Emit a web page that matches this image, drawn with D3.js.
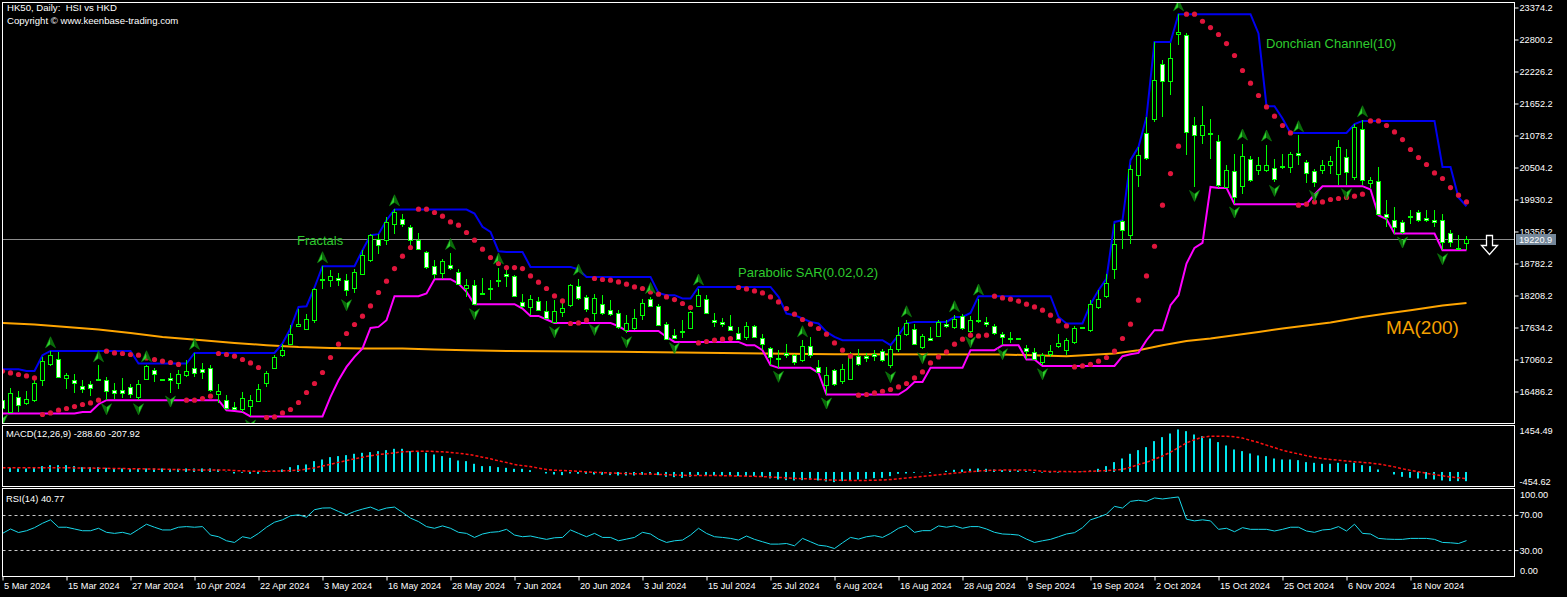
<!DOCTYPE html>
<html><head><meta charset="utf-8">
<script src="https://cdn.jsdelivr.net/npm/d3@7"></script>
<style>
html,body{margin:0;padding:0;background:#000;overflow:hidden}
svg{display:block}
text{font-family:"Liberation Sans",Arial,sans-serif}
</style></head><body>
<svg id="c" width="1567" height="597"></svg>
<script>
const dateLabels = ["5 Mar 2024","15 Mar 2024","27 Mar 2024","10 Apr 2024","22 Apr 2024","3 May 2024","16 May 2024","28 May 2024","7 Jun 2024","20 Jun 2024","3 Jul 2024","15 Jul 2024","25 Jul 2024","6 Aug 2024","16 Aug 2024","28 Aug 2024","9 Sep 2024","19 Sep 2024","2 Oct 2024","15 Oct 2024","25 Oct 2024","6 Nov 2024","18 Nov 2024"];
const priceTicks = [23374.2,22800.2,22226.2,21652.2,21078.2,20504.2,19930.2,19356.2,18782.2,18208.2,17634.2,17060.2,16486.2];
const macdTicks = [1454.49,-454.62];
const rsiTicks = [100,70,30,0];
const rsiLevels = [70,30];
const lastPrice = 19220.9;

const opens = [
16329,16119,16389,16288,16342,16688,16988,17077,16736,16688,
16593,16616,16710,16700,16508,16508,16562,16389,16719,16867,
16700,16736,16647,16790,16908,16898,16908,16449,16342,16209,
16168,16227,16317,16640,16915,17149,17347,17662,17615,17777,
18500,18482,18523,18494,18351,18602,18841,19230,19212,19499,
19588,19438,19199,18989,18733,18613,18751,18631,18351,18392,
18231,18320,18482,18602,18553,18092,18003,18105,17926,17734,
17913,18033,18387,18182,17895,18064,17944,17902,17585,17633,
17866,18141,18028,17705,17495,17575,17633,18021,18141,17777,
17741,17669,17544,17465,17656,17454,17267,17080,17177,17136,
17046,17303,16926,16598,16867,16670,16719,17118,17124,17167,
17213,16957,17257,17513,17615,17285,17454,17483,17705,17644,
17836,17572,17776,17734,17656,17526,17450,17440,17267,17195,
17016,17154,17298,17239,17374,17630,17585,18003,18195,18692,
19540,19289,20366,21132,21383,22352,22052,22890,22877,21275,
21096,21124,20981,20156,20443,20168,20665,20455,20455,20503,
20530,20515,20766,20604,20443,20455,20545,20396,20694,20335,
21203,20227,20263,19678,19558,19528,19632,19707,19607,19571,
19558,19337,19064,19151];
const highs = [
16383,16544,16490,16490,16747,17106,17208,17195,16818,16795,
16688,16670,16957,16747,16634,16724,16616,16688,16957,16908,
16715,16826,16867,17046,17179,16998,16957,16629,16419,16299,
16478,16419,16616,16855,17136,17347,17687,17974,17884,18351,
18734,18674,18613,18589,18692,19020,19320,19320,19617,19755,
19678,19469,19330,19007,18841,18864,18972,18692,18512,18482,
18530,18482,18710,18661,18571,18243,18213,18182,18105,18123,
18123,18422,18512,18213,18243,18213,18135,17944,17854,17974,
18154,18182,18051,17734,17603,17764,17931,18333,18225,17895,
17800,17854,17644,17734,17687,17526,17285,17226,17347,17167,
17405,17464,17059,16926,16898,16988,17195,17244,17177,17239,
17257,17303,17644,17764,17692,17513,17644,17764,17764,17854,
17884,17836,18154,17823,17705,17557,17549,17450,17316,17262,
17172,17316,17526,17441,17661,17650,18123,18302,18601,19499,
19558,20545,20873,21412,22757,22441,22739,23254,22918,21411,
21603,21383,21083,20545,20755,20934,20706,20694,20916,20665,
20755,20783,21083,20647,20486,20647,20706,21006,20844,21293,
21352,20335,20514,19929,19797,19571,19750,19750,19738,19750,
19678,19379,19289,19276];
const lows = [
16132,16096,16114,16239,16293,16586,16939,16729,16539,16467,
16467,16406,16670,16329,16360,16365,16365,16329,16700,16657,
16690,16467,16539,16747,16747,16706,16478,16280,16150,16150,
16114,16038,16293,16568,16903,17106,17316,17644,17585,17716,
18333,18362,18374,18195,18254,18571,18810,18948,19110,19320,
19438,19050,19020,18692,18512,18500,18674,18392,18182,18033,
18213,18123,18356,18362,18177,17979,17854,17926,17782,17710,
17823,17997,18123,17913,17752,17854,17836,17615,17531,17585,
17777,17997,17656,17405,17423,17441,17603,17997,17872,17644,
17644,17567,17405,17405,17441,17226,16958,16910,17082,16957,
17011,17082,16820,16432,16580,16616,16688,16939,17011,17029,
17011,16903,17190,17477,17316,17244,17387,17459,17621,17603,
17585,17531,17710,17639,17495,17316,17351,17430,17064,17064,
16957,17106,17262,17136,17344,17620,17554,17974,18159,18512,
19050,19140,20156,20635,21322,21411,21801,22698,20724,20155,
20934,20665,20138,20138,19858,20037,20240,20366,20419,20246,
20486,20407,20545,20228,20156,20396,20396,20186,20186,20276,
20186,20132,19648,19438,19320,19320,19499,19528,19522,19438,
19021,19079,19033,19020];
const closes = [
16185,16467,16252,16347,16647,17029,17136,16747,16777,16647,
16539,16557,16706,16496,16467,16467,16437,16629,16939,16808,
16705,16700,16808,16855,16826,16837,16521,16490,16191,16168,
16378,16329,16539,16826,17106,17239,17526,17705,17795,18333,
18495,18559,18482,18302,18631,18930,19289,19110,19528,19707,
19499,19199,19050,18720,18589,18823,18710,18410,18392,18064,
18261,18351,18490,18553,18200,18020,18141,17956,17813,17926,
17992,18392,18172,17974,18172,17895,17884,17644,17723,17813,
18074,18028,17687,17436,17454,17580,17913,18213,17902,17741,
17692,17585,17436,17656,17465,17347,17106,17085,17136,17016,
17298,17136,16837,16777,16629,16885,17118,16988,17088,17118,
17046,17257,17495,17716,17347,17477,17418,17734,17656,17795,
17626,17764,17746,17692,17543,17465,17446,17436,17208,17077,
17136,17208,17357,17405,17633,17636,18051,18154,18433,19140,
19379,20486,20724,20683,22082,22052,22477,22936,21142,21083,
21275,21128,20186,20455,19976,20706,20276,20557,20545,20306,
20533,20755,20724,20407,20245,20545,20622,20873,20424,21232,
20276,20276,19678,19617,19438,19348,19628,19571,19558,19528,
19169,19169,19060,19220.9];

const donchianUpper = [
16886,16886,16886,16856,16856,17137,17214,17214,17214,17214,
17214,17214,17214,17214,17214,17214,17214,16988,16988,16988,
16988,16988,16988,16988,17179,17179,17179,17179,17179,17179,
17179,17179,17179,17179,17179,17347,17616,18004,18016,18352,
18734,18734,18734,18734,18734,19021,19290,19308,19559,19751,
19751,19751,19751,19751,19751,19751,19751,19751,19751,19679,
19439,19349,19003,18990,18990,18990,18721,18721,18721,18721,
18721,18721,18675,18542,18542,18542,18542,18542,18542,18542,
18542,18542,18255,18214,18214,18154,18154,18362,18362,18362,
18362,18362,18362,18362,18362,18362,18362,18183,17885,17855,
17796,17735,17706,17555,17465,17406,17406,17406,17406,17406,
17406,17317,17496,17706,17735,17735,17735,17735,17735,17824,
17824,17896,18196,18196,18196,18196,18196,18196,18196,18196,
18196,18196,17824,17706,17706,17706,18052,18303,18513,19528,
19559,20635,20874,21412,22757,22757,22757,23254,23254,23254,
23254,23254,23254,23254,23254,23254,23254,22908,21604,21604,
21383,21125,21125,21125,21125,21125,21125,21125,21125,21281,
21340,21340,21340,21340,21340,21340,21340,21340,21340,21340,
20515,20515,19966,19810];
const donchianLower = [
16092,16092,16092,16092,16092,16092,16092,16092,16092,16092,
16120,16120,16258,16330,16330,16330,16330,16330,16330,16330,
16330,16330,16330,16330,16330,16330,16330,16330,16151,16138,
16120,16038,16038,16038,16038,16038,16038,16038,16038,16038,
16038,16389,16689,16927,17107,17258,17627,17645,17765,18196,
18196,18196,18196,18244,18500,18500,18500,18423,18273,18052,
18052,18052,18052,18052,18052,17975,17842,17842,17778,17717,
17717,17717,17717,17717,17717,17717,17717,17657,17573,17573,
17573,17573,17573,17465,17376,17376,17376,17376,17376,17376,
17376,17376,17376,17317,17317,17227,16958,16910,16910,16910,
16910,16910,16820,16432,16432,16432,16432,16432,16432,16432,
16432,16432,16432,16522,16658,16658,16910,16910,16910,16910,
16910,17227,17227,17227,17227,17317,17317,17317,17060,17060,
16945,16945,16945,16945,16945,16945,16945,16945,16945,16945,
17119,17155,17179,17406,17586,17586,18034,18214,18782,19062,
19152,20156,20138,20138,19846,19846,19846,19846,19846,19846,
19846,19846,19846,19846,20020,20169,20169,20169,20169,20169,
20169,20110,19649,19577,19320,19320,19320,19320,19320,19320,
19021,19021,19021,19021];
const sar = [
16850,16820,16791,16766,16730,16074,16102,16151,16181,16217,
16253,16282,16330,17209,17179,17168,17150,17137,17089,17060,
17030,17006,16971,16330,16330,16361,16402,17168,17150,17119,
17060,16999,16917,16020,16031,16102,16163,16289,16468,16630,
16827,17096,17335,17527,17688,17837,18022,18262,18465,18692,
18913,19069,19756,19756,19697,19631,19528,19469,19338,19200,
19039,18890,18782,18710,18710,18692,18560,18447,18334,18201,
18111,17706,17717,17765,18513,18495,18483,18452,18411,18362,
18334,18273,18232,18183,18136,18065,17993,17358,17383,17406,
17424,17437,18352,18327,18291,18255,18183,18093,17975,17873,
17778,17693,17616,17514,17358,17227,17119,16420,16432,16461,
16491,16522,16569,16630,16730,16838,16999,17107,17196,17335,
17424,17496,17483,17496,18196,18165,18142,18106,18052,18004,
17945,17855,17752,17663,16927,16945,16971,17030,17096,17209,
17437,17693,18124,18560,19092,19828,20396,20886,23254,23254,
23128,23015,22890,22728,22513,22244,22016,21796,21591,21424,
21258,21125,19828,19846,19887,19887,19930,19948,19966,19989,
20025,21340,21340,21258,21143,21006,20827,20684,20558,20407,
20307,20145,20007,19887];
const maIndex = [0,4,8,12,16,20,25,29,33,37,41,45,50,54,58,63,77,104,125,133,139,142,145,148,151,154,157,160,164,166,170,173,176,180,183];
const maValue = [17716,17687,17644,17597,17536,17465,17405,17357,17316,17285,17267,17257,17257,17239,17226,17213,17199,17154,17150,17119,17168,17227,17317,17394,17437,17496,17555,17616,17690,17725,17824,17885,17945,18030,18075];
const fractalUp = [6,12,18,24,40,49,56,62,72,81,87,100,113,119,122,147,155,158,162,170];
const fractalDown = [0,13,17,21,31,43,59,69,74,78,84,97,103,111,115,121,125,130,149,154,159,164,168,175,180];

const macdHist = [
130,130,110,110,130,183,214,214,214,183,
151,151,151,130,110,110,99,99,110,110,
110,99,99,110,110,110,110,78,10,-47,
-26,-57,-57,26,47,78,151,214,235,339,
391,464,496,527,569,600,621,652,683,725,
725,652,621,600,548,496,443,360,339,256,
183,183,151,130,99,99,57,0,-47,-78,
-99,-47,-57,-57,-78,-88,-99,-110,-110,-110,
-88,-78,-99,-151,-162,-183,-151,-99,-99,-110,
-110,-110,-130,-130,-130,-151,-203,-235,-256,-266,
-256,-235,-266,-297,-318,-287,-266,-235,-214,-193,
-183,-130,-57,-47,-26,-10,-26,0,36,68,
78,99,110,99,78,57,57,47,26,-26,
-20,-20,-20,-5,10,10,47,99,183,308,
422,569,683,777,965,1090,1204,1330,1277,1173,
1121,1048,934,829,704,652,579,517,496,422,
391,391,370,308,287,256,256,287,256,287,
214,183,78,0,-78,-151,-183,-203,-214,-235,
-266,-287,-287,-288.60];
const macdSignal = [
130,130,130,130,130,130,130,130,130,128,
125,122,118,114,110,106,103,100,95,90,
85,80,75,70,65,62,60,60,60,45,
35,26,20,20,25,35,45,57,90,130,
185,240,300,360,410,464,505,548,569,600,
631,642,652,652,642,631,610,590,558,517,
464,412,350,297,235,198,170,120,80,55,
45,35,20,5,-10,-20,-30,-40,-50,-55,
-60,-65,-75,-85,-95,-105,-110,-110,-110,-112,
-115,-120,-125,-130,-135,-145,-155,-170,-185,-200,
-210,-220,-232,-245,-255,-260,-265,-266,-264,-258,
-250,-235,-215,-190,-165,-140,-115,-90,-60,-35,
-10,10,30,45,55,60,62,62,60,55,
20,18,15,12,10,10,20,30,45,65,
80,150,235,300,400,500,620,760,913,1010,
1090,1121,1121,1121,1100,1060,990,920,840,760,
680,620,565,510,460,420,390,365,340,320,
300,280,250,205,160,100,50,5,-40,-80,
-120,-155,-182,-207.92];
const rsi = [
49,54,50,52,55.5,60.5,64.4,56,56,54,
52,52,54.8,50.2,49,50.2,47.9,53.6,59.4,56,
52.9,52.9,56,56.7,56,56.7,47.1,45.2,40.6,38.7,
45.2,43.3,49,56,61.7,64.4,69,70.1,67.4,75.9,
77.8,78,73.9,70.1,73.9,76.6,78.9,75.1,77.8,78.9,
72.8,66.3,62.4,56.7,54.8,57.5,54.8,50.2,49,44.4,
48.3,50.2,50.9,53.6,47.1,45.2,46,44,42.2,44,
44.4,52.9,49,45.2,49,44.4,44.4,40.6,42.5,44.4,
50.2,48.3,42.5,38.7,40.6,41.4,47.1,54.8,49,45.2,
44.4,43.3,41.4,46,42.2,39.5,36.8,36.8,37.5,34.9,
43.3,39.5,35.6,34.5,31.8,38.3,44.4,42.5,45.2,46.4,
44.4,49,54.8,57.9,50.2,52.1,52.1,57.5,56,57.5,
54.8,56.7,56.7,54,50.2,48.3,47.9,47.1,42.5,38.7,
40.6,42.2,45.2,48.3,49.8,55.5,64.4,67.4,70.9,79.7,
77.8,85.4,86.6,85.4,89.3,88.1,89.3,90.4,65.1,63.2,
64.4,63.2,53.6,54.8,50.9,55.5,53.6,53.6,53.6,51.7,
53.6,56,56,51.7,50.2,52.9,53.6,56.7,51.7,59.4,
49,48.3,43.3,42.5,42.2,42.2,43.3,43.3,43.3,42.2,
38.7,38.3,37.5,40.77];

// ---------- layout ----------
const svg = d3.select('#c');
const L = 2.5, R = 1514.5;
const mainT = 2.5, mainB = 423.5, macdT = 425.5, macdB = 486.5, rsiT = 488.5, rsiB = 576.5;
const n = opens.length;
const idx = d3.range(n);
const x = d3.scaleLinear().domain([0, n - 1]).range([2.5, 2.5 + 8 * (n - 1)]);
const y = d3.scaleLinear().domain([16486.2, 23374.2]).range([391.5, 7.5]);
const ym = d3.scaleLinear().domain([-454.62, 1454.49]).range([macdB, macdT]);
const yr = d3.scaleLinear().domain([0, 100]).range([rsiB, rsiT]);

svg.append('rect').attr('width', 1567).attr('height', 597).attr('fill', '#000');
const defs = svg.append('defs');
function clip(id, t, b) {
  defs.append('clipPath').attr('id', id).append('rect')
    .attr('x', L + 0.5).attr('y', t + 0.5).attr('width', R - L - 1).attr('height', b - t - 1);
}
clip('cm', mainT, mainB); clip('cd', macdT, macdB); clip('cr', rsiT, rsiB);

const GREEN = '#00ff00';
const main = svg.append('g').attr('clip-path', 'url(#cm)');

// MA(200)
main.append('path').datum(d3.range(maIndex.length))
  .attr('d', d3.line().x(k => x(maIndex[k])).y(k => y(maValue[k])))
  .attr('fill', 'none').attr('stroke', '#ffa500').attr('stroke-width', 2);

// current price line
main.append('line').attr('x1', L).attr('x2', R)
  .attr('y1', Math.round(y(lastPrice)) + 0.5).attr('y2', Math.round(y(lastPrice)) + 0.5)
  .attr('stroke', '#8c8c8c').attr('stroke-width', 1);

// Donchian
main.append('path').datum(idx)
  .attr('d', d3.line().x(i => x(i)).y(i => y(donchianUpper[i])))
  .attr('fill', 'none').attr('stroke', '#0000f0').attr('stroke-width', 2);
main.append('path').datum(idx)
  .attr('d', d3.line().x(i => x(i)).y(i => y(donchianLower[i])))
  .attr('fill', 'none').attr('stroke', '#ff00ff').attr('stroke-width', 2);

// candles
main.selectAll('line.wick').data(idx).join('line').attr('class', 'wick')
  .attr('x1', i => x(i)).attr('x2', i => x(i))
  .attr('y1', i => Math.round(y(highs[i]))).attr('y2', i => Math.round(y(lows[i])))
  .attr('stroke', GREEN).attr('stroke-width', 1);
main.selectAll('rect.body').data(idx).join('rect').attr('class', 'body')
  .attr('x', i => x(i) - 2).attr('width', 4)
  .attr('y', i => Math.round(y(Math.max(opens[i], closes[i]))) + 0.5)
  .attr('height', i => Math.max(1, Math.round(y(Math.min(opens[i], closes[i]))) - Math.round(y(Math.max(opens[i], closes[i])))))
  .attr('fill', i => closes[i] >= opens[i] ? '#000' : '#fff')
  .attr('stroke', GREEN).attr('stroke-width', 1);

// Parabolic SAR
main.selectAll('circle.sar').data(idx).join('circle').attr('class', 'sar')
  .attr('cx', i => x(i)).attr('cy', i => y(sar[i])).attr('r', 2.6)
  .attr('fill', '#e0153c');

// Fractals
function fractal(list, up) {
  const gg = main.selectAll(null).data(list).join('g')
    .attr('transform', i => `translate(${x(i)},${up ? y(highs[i]) - 9 : y(lows[i]) + 9})${up ? '' : ' rotate(180)'}`);
  gg.append('path').attr('d', 'M0,-5.5L0,2L-5,5.5Z').attr('fill', '#2fd02f');
  gg.append('path').attr('d', 'M0,-5.5L5,5.5L0,2Z').attr('fill', '#0a6a0a');
  gg.append('path').attr('d', 'M0,-5.5L5,5.5L0,2L-5,5.5Z').attr('fill', 'none').attr('stroke', '#0c8a0c').attr('stroke-width', 0.6);
}
fractal(fractalUp, true);
fractal(fractalDown, false);

// annotations
const txt = (s, xx, yy, size, col) => svg.append('text').attr('x', xx).attr('y', yy)
  .attr('font-size', size).attr('fill', col).style('white-space', 'pre').text(s);
txt('Fractals', 297, 245, 13, '#2ecc2e');
txt('Parabolic SAR(0.02,0.2)', 738, 277, 13, '#2ecc2e');
txt('Donchian Channel(10)', 1266, 48, 13, '#2ecc2e');
txt('MA(200)', 1386, 334, 19, '#f5a000');

// hollow arrow
svg.append('path')
  .attr('d', 'M1486.5,235.5H1492.5V245.5H1497.5L1489.5,254.5L1481.5,245.5H1486.5Z')
  .attr('fill', '#000').attr('stroke', '#ffffff').attr('stroke-width', 1.3);

// ---------- MACD ----------
const mg = svg.append('g').attr('clip-path', 'url(#cd)');
mg.selectAll('rect').data(idx).join('rect')
  .attr('x', i => x(i) - 1.5).attr('width', 2)
  .attr('y', i => Math.min(ym(0), ym(macdHist[i])))
  .attr('height', i => Math.abs(ym(macdHist[i]) - ym(0)))
  .attr('fill', '#00e8f0');
mg.append('path').datum(idx)
  .attr('d', d3.line().x(i => x(i)).y(i => ym(macdSignal[i])))
  .attr('fill', 'none').attr('stroke', '#ff1010').attr('stroke-width', 1.5).attr('stroke-dasharray', '3,2');

// ---------- RSI ----------
const rg = svg.append('g').attr('clip-path', 'url(#cr)');
rg.selectAll('line.lvl').data(rsiLevels).join('line').attr('class', 'lvl')
  .attr('x1', L).attr('x2', R)
  .attr('y1', d => Math.round(yr(d)) + 0.5).attr('y2', d => Math.round(yr(d)) + 0.5)
  .attr('stroke', '#c8c8c8').attr('stroke-width', 1).attr('stroke-dasharray', '3,3');
rg.append('path').datum(idx)
  .attr('d', d3.line().x(i => x(i)).y(i => yr(rsi[i])))
  .attr('fill', 'none').attr('stroke', '#18d8ea').attr('stroke-width', 1);

// ---------- frames ----------
[[mainT, mainB], [macdT, macdB], [rsiT, rsiB]].forEach(([t, b]) => {
  svg.append('rect').attr('x', L).attr('y', t).attr('width', R - L).attr('height', b - t)
    .attr('fill', 'none').attr('stroke', '#fff').attr('stroke-width', 1);
});

// ---------- axes ----------
function styleAxis(g) {
  g.select('.domain').remove();
  g.selectAll('line').attr('stroke', '#fff');
  g.selectAll('text').attr('fill', '#fff').attr('font-size', 9.2)
    .attr('font-family', '"Liberation Sans",Arial,sans-serif');
  g.attr('font-family', null).attr('font-size', null);
}
svg.append('g').attr('transform', `translate(${R},0)`)
  .call(d3.axisRight(y).tickValues(priceTicks).tickFormat(d => d.toFixed(1)).tickSize(4).tickPadding(1).tickSizeOuter(0))
  .call(styleAxis);

// price box
const py = Math.round(y(lastPrice));
svg.append('rect').attr('x', 1516).attr('y', py - 5).attr('width', 40).attr('height', 11).attr('fill', '#74879a');
svg.append('text').attr('x', 1519).attr('y', py + 0.5).attr('dy', '0.35em').attr('font-size', 9.2)
  .attr('fill', '#fff').text(lastPrice.toFixed(1));

// MACD axis
svg.append('g').attr('transform', `translate(${R},0)`)
  .call(d3.axisRight(ym).tickValues(macdTicks).tickFormat(d => d.toFixed(2)).tickSize(0).tickPadding(5).tickSizeOuter(0))
  .call(styleAxis)
  .call(g => g.selectAll('text').attr('dy', (d) => d > 0 ? '0.9em' : '-0.25em'));

// RSI axis
svg.append('g').attr('transform', `translate(${R},0)`)
  .call(d3.axisRight(yr).tickValues(rsiTicks).tickFormat(d => d.toFixed(2)).tickSize(4).tickPadding(1).tickSizeOuter(0))
  .call(styleAxis)
  .call(g => {
    g.selectAll('.tick').filter(d => d === 100 || d === 0).select('line').remove();
    g.selectAll('.tick').filter(d => d === 100 || d === 0).select('text')
      .attr('x', 5.5).attr('dy', d => d === 100 ? '0.95em' : '-0.3em');
  });

// date axis
const dateIdx = dateLabels.map((d, k) => k * 8);
svg.append('g').attr('transform', `translate(0,${rsiB})`)
  .call(d3.axisBottom(x).tickValues(dateIdx).tickFormat((d, k) => dateLabels[k]).tickSize(4).tickPadding(2).tickSizeOuter(0))
  .call(styleAxis)
  .call(g => g.selectAll('text').attr('text-anchor', 'start').attr('x', 1));

// titles
const t1 = svg.append('g').attr('font-size', 9.6).attr('fill', '#fff');
t1.append('text').attr('x', 7).attr('y', 11).style('white-space', 'pre').text('HK50, Daily:  HSI vs HKD');
t1.append('text').attr('x', 7).attr('y', 24).text('Copyright \u00a9 www.keenbase-trading.com');
svg.append('text').attr('x', 6).attr('y', 437).attr('font-size', 9.4).attr('fill', '#fff')
  .text(`MACD(12,26,9) ${macdHist[n - 1].toFixed(2)} ${macdSignal[n - 1].toFixed(2)}`);
svg.append('text').attr('x', 6).attr('y', 502).attr('font-size', 9.4).attr('fill', '#fff')
  .text(`RSI(14) ${rsi[n - 1].toFixed(2)}`);
</script>
</body></html>
